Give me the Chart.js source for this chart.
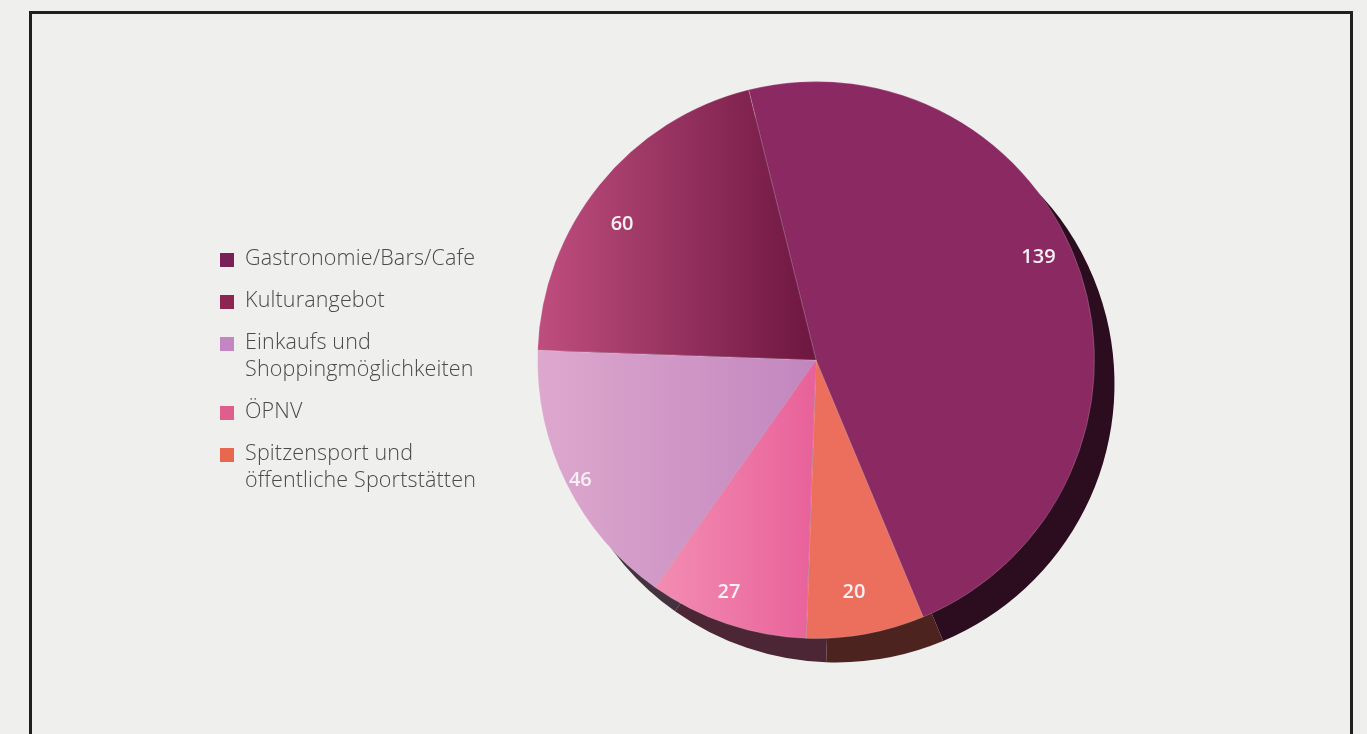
<!DOCTYPE html>
<html>
<head>
<meta charset="utf-8">
<script src="https://cdn.jsdelivr.net/npm/chart.js@4/dist/chart.umd.min.js"></script>
<style>
  html, body { margin: 0; padding: 0; width: 1367px; height: 734px; overflow: hidden; background: #efefee; }
  #frame { position: absolute; left: 29px; top: 11px; width: 1318px; height: 760px; border: 3px solid #1f1f1f; border-bottom: none; }
  #chart { position: absolute; left: 0; top: 0; }
  #legend { position: absolute; left: 220px; top: 243px; font-family: "Open Sans", "Noto Sans", sans-serif; font-weight: 300;
            font-size: 21.5px; line-height: 27px; color: #4a4a4a; letter-spacing: 0.15px; }
  .item { display: flex; align-items: flex-start; margin-bottom: 15px; }
  .sw { flex: none; width: 14px; height: 14px; margin-top: 10px; margin-right: 11px; }
</style>
</head>
<body>
<div id="frame"></div>
<canvas id="chart" width="1367" height="734"></canvas>
<div id="legend"></div>
<script>
// Categories (legend order), with their text lines
const categories = [
  ['Gastronomie/Bars/Cafe'],
  ['Kulturangebot'],
  ['Einkaufs und', 'Shoppingmöglichkeiten'],
  ['ÖPNV'],
  ['Spitzensport und', 'öffentliche Sportstätten']
];
const values = [139, 60, 46, 27, 20];
// Clockwise order in which the slices sit around the pie
const sliceOrder = [0, 4, 3, 2, 1];

// Colours
const swatchColors = ['#7a2058', '#8c2550', '#c386c2', '#de5f8e', '#e8674f'];
const sliceBase   = ['#8a2962', '#9a3262', '#d49bc9', '#ee78a5', '#ec6e5d'];
const gradientStops = [
  null,
  ['#bf4e7e', '#6d1640'],
  ['#dda8ce', '#c286be'],
  ['#f38db2', '#e8619a'],
  null
];
const SHADOW = { dx: 20, dy: 24, factor: 0.32 };
// Label placement per slice: [radius fraction, angle shift in degrees]
const LABEL_PLACE = [[0.88, -6.5], [0.85, -4], [0.95, -0.7], [0.89, 1.9], [0.845, 1]];

function darken(hex, f) {
  const n = parseInt(hex.slice(1), 16);
  const r = Math.round(((n >> 16) & 255) * f), g = Math.round(((n >> 8) & 255) * f), b = Math.round((n & 255) * f);
  return `rgb(${r},${g},${b})`;
}

const chartLabels = sliceOrder.map(i => categories[i].join(' '));
const chartValues = sliceOrder.map(i => values[i]);

function sliceFill(c) {
  const cat = sliceOrder[c.dataIndex];
  const stops = gradientStops[cat];
  const area = c.chart.chartArea;
  if (!stops || !area) return sliceBase[cat];
  const cx = (area.left + area.right) / 2;
  const R = Math.min(area.right - area.left, area.bottom - area.top) / 2;
  const x0 = cat === 3 ? cx - R * 0.58 : cx - R;
  const g = c.chart.ctx.createLinearGradient(x0, 0, cx, 0);
  g.addColorStop(0, stops[0]);
  g.addColorStop(1, stops[1]);
  return g;
}

// Dark offset copy of every slice, giving the pie its raised look
const pieShadow = {
  id: 'pieShadow',
  beforeDatasetsDraw(chart) {
    const ctx = chart.ctx;
    const meta = chart.getDatasetMeta(0);
    ctx.save();
    meta.data.forEach((arc, k) => {
      const p = arc.getProps(['x', 'y', 'startAngle', 'endAngle', 'outerRadius']);
      const x = p.x + SHADOW.dx, y = p.y + SHADOW.dy;
      ctx.beginPath();
      ctx.moveTo(x, y);
      ctx.arc(x, y, p.outerRadius, p.startAngle, p.endAngle);
      ctx.closePath();
      ctx.fillStyle = darken(sliceBase[sliceOrder[k]], SHADOW.factor);
      ctx.fill();
    });
    ctx.restore();
  }
};

// Value labels inside the slices
const sliceValues = {
  id: 'sliceValues',
  afterDatasetsDraw(chart) {
    const ctx = chart.ctx;
    const meta = chart.getDatasetMeta(0);
    ctx.save();
    ctx.font = '600 20px "Open Sans", "Noto Sans", sans-serif';
    ctx.fillStyle = '#f7f0f4';
    ctx.textAlign = 'center';
    ctx.textBaseline = 'middle';
    meta.data.forEach((arc, k) => {
      const cat = sliceOrder[k];
      const p = arc.getProps(['x', 'y', 'startAngle', 'endAngle', 'outerRadius']);
      const [f, shift] = LABEL_PLACE[cat];
      const mid = (p.startAngle + p.endAngle) / 2 + shift * Math.PI / 180;
      const r = p.outerRadius * f;
      ctx.fillText(String(chartValues[k]), p.x + Math.cos(mid) * r, p.y + Math.sin(mid) * r);
    });
    ctx.restore();
  }
};

new Chart(document.getElementById('chart'), {
  type: 'pie',
  data: {
    labels: chartLabels,
    datasets: [{
      data: chartValues,
      backgroundColor: sliceFill,
      borderColor: 'rgba(255,255,255,0.18)',
      borderWidth: 1
    }]
  },
  options: {
    responsive: false,
    animation: false,
    rotation: -14,
    layout: { padding: { left: 537, right: 272, top: 81, bottom: 95 } },
    plugins: { legend: { display: false }, tooltip: { enabled: false } }
  },
  plugins: [pieShadow, sliceValues]
});

// Legend
const legend = document.getElementById('legend');
categories.forEach((lines, i) => {
  const item = document.createElement('div');
  item.className = 'item';
  const sw = document.createElement('div');
  sw.className = 'sw';
  sw.style.background = swatchColors[i];
  const txt = document.createElement('div');
  lines.forEach(l => { const d = document.createElement('div'); d.textContent = l; txt.appendChild(d); });
  item.appendChild(sw);
  item.appendChild(txt);
  legend.appendChild(item);
});
</script>
</body>
</html>
